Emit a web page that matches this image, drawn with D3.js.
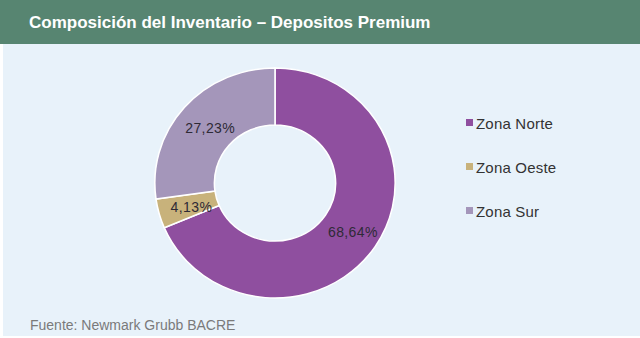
<!DOCTYPE html>
<html>
<head>
<meta charset="utf-8">
<script src="https://cdn.jsdelivr.net/npm/d3@7"></script>
<style>
  html, body { margin: 0; padding: 0; background: #ffffff; }
  svg { display: block; font-family: "Liberation Sans", Arial, sans-serif; }
</style>
</head>
<body>
<svg id="chart" width="640" height="338"></svg>
<script>
// Inventory composition by zone (percent of total)
const categories = ["Zona Norte", "Zona Oeste", "Zona Sur"];
const shares = [68.64, 4.13, 27.23];
const colors = ["#8f4f9f", "#c8b27b", "#a496ba"];
const title = "Composición del Inventario – Depositos Premium";
const source = "Fuente: Newmark Grubb BACRE";

const svg = d3.select("#chart");
const W = 640, H = 338;

// panel background
svg.append("rect").attr("x", 3).attr("y", 44).attr("width", W - 3).attr("height", H - 44 - 2)
  .attr("fill", "#e8f2fa");

// title band
svg.append("rect").attr("x", 0).attr("y", 0).attr("width", W).attr("height", 44)
  .attr("fill", "#578571");
svg.append("text").attr("x", 29).attr("y", 28)
  .attr("fill", "#ffffff").attr("font-size", 17).attr("font-weight", "bold")
  .text(title);

// donut
const data = categories.map((c, i) => ({ name: c, value: shares[i], color: colors[i] }));
const pie = d3.pie().value(d => d.value).sort(null);
const rOuter = 115, rInner = 58;
const arc = d3.arc().innerRadius(rInner).outerRadius(rOuter);
const labelArc = d3.arc().innerRadius(86).outerRadius(86);
const cx = 275, cy = 183;

const g = svg.append("g").attr("transform", `translate(${cx},${cy})`);
g.append("g").attr("transform", "scale(1.045,1)")
  .selectAll("path").data(pie(data)).join("path")
  .attr("d", arc)
  .attr("fill", d => d.data.color)
  .attr("stroke", "#ffffff").attr("stroke-width", 1.5);

const fmt = v => v.toFixed(2).replace(".", ",") + "%";
g.selectAll("text.lbl").data(pie(data)).join("text")
  .attr("class", "lbl")
  .attr("transform", d => { const [x, y] = labelArc.centroid(d); return `translate(${x * 1.045 + 3},${y + 1})`; })
  .attr("text-anchor", "middle").attr("dominant-baseline", "central")
  .attr("font-size", 14).attr("letter-spacing", 0.4).attr("fill", "#2e2a36")
  .text(d => fmt(d.data.value));

// legend
const legendY = d3.scalePoint().domain(categories).range([123, 211]);
const leg = svg.append("g").selectAll("g").data(data).join("g")
  .attr("transform", d => `translate(466,${legendY(d.name)})`);
leg.append("rect").attr("x", 0).attr("y", -4).attr("width", 7).attr("height", 7)
  .attr("fill", d => d.color);
leg.append("text").attr("x", 10).attr("y", 0).attr("dominant-baseline", "central")
  .attr("font-size", 15).attr("letter-spacing", 0.2).attr("fill", "#333333")
  .text(d => d.name);

// source note
svg.append("text").attr("x", 30).attr("y", 330)
  .attr("font-size", 14).attr("fill", "#7a7a7a")
  .text(source);
</script>
</body>
</html>
